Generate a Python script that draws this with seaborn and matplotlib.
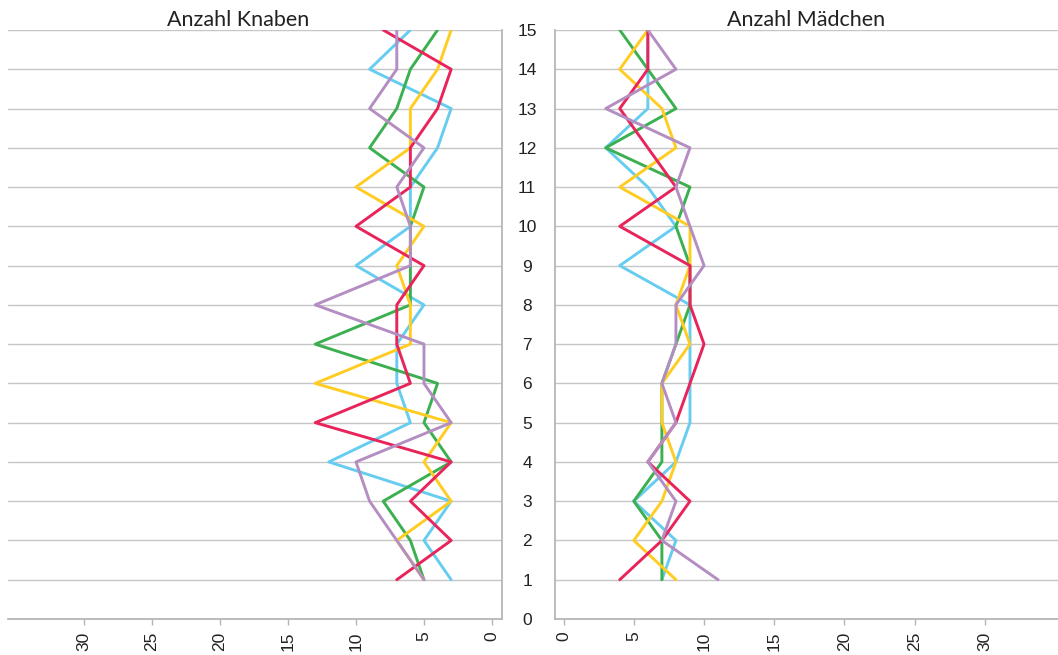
import pandas as pd
import matplotlib.pyplot as plt
import seaborn as sns

# positions 1..15 on the vertical axis
positions = list(range(1, 16))
series_names = ['blau', 'gruen', 'gelb', 'rot', 'lila']
colors = {'rot': '#e8245a', 'gelb': '#ffcc22', 'gruen': '#3cb050',
          'blau': '#66cdf0', 'lila': '#b48ec2'}

# Anzahl Knaben, values for positions 1..15
knaben_rot = [7, 3, 6, 3, 13, 6, 7, 7, 5, 10, 6, 6, 4, 3, 8]
knaben_gelb = [5, 7, 3, 5, 3, 13, 6, 6, 7, 5, 10, 6, 6, 4, 3]
knaben_gruen = [5, 6, 8, 3, 5, 4, 13, 6, 6, 6, 5, 9, 7, 6, 4]
knaben_blau = [3, 5, 3, 12, 6, 7, 7, 5, 10, 6, 6, 4, 3, 9, 6]
knaben_lila = [5, 7, 9, 10, 3, 5, 5, 13, 6, 6, 7, 5, 9, 7, 7]

# Anzahl Mädchen
maedchen_rot = [4, 7, 9, 6, 8, 9, 10, 9, 9, 4, 8, 6, 4, 6, 6]
maedchen_gelb = [8, 5, 7, 8, 7, 7, 9, 8, 9, 9, 4, 8, 7, 4, 6]
maedchen_gruen = [7, 7, 5, 7, 7, 7, 8, 9, 9, 8, 9, 3, 8, 6, 4]
maedchen_blau = [7, 8, 5, 8, 9, 9, 9, 9, 4, 8, 6, 3, 6, 6, 6]
maedchen_lila = [11, 7, 8, 6, 8, 7, 8, 8, 10, 9, 8, 9, 3, 8, 6]

x_ticks = [0, 5, 10, 15, 20, 25, 30]
y_ticks = list(range(0, 16))


def make_df(d):
    rows = []
    for name, vals in d.items():
        for p, v in zip(positions, vals):
            rows.append({'serie': name, 'pos': p, 'wert': v})
    return pd.DataFrame(rows)


df_k = make_df({'rot': knaben_rot, 'gelb': knaben_gelb, 'gruen': knaben_gruen,
                'blau': knaben_blau, 'lila': knaben_lila})
df_m = make_df({'rot': maedchen_rot, 'gelb': maedchen_gelb, 'gruen': maedchen_gruen,
                'blau': maedchen_blau, 'lila': maedchen_lila})

sns.set_theme(style='white')
plt.rcParams['font.family'] = ['Liberation Sans', 'DejaVu Sans']

fig = plt.figure(figsize=(10.58, 6.55), dpi=100)
ax1 = fig.add_axes([8 / 1058, 1 - 619 / 655, 494 / 1058, 589 / 655])
ax2 = fig.add_axes([555 / 1058, 1 - 619 / 655, 503 / 1058, 589 / 655])

grid_c = '#c6c6c6'
spine_c = '#b4b4b4'

for ax, df in [(ax1, df_k), (ax2, df_m)]:
    sns.lineplot(data=df, x='wert', y='pos', hue='serie', hue_order=series_names,
                 palette=colors, orient='y', estimator=None, sort=True,
                 legend=False, linewidth=2.1, ax=ax)
    ax.set_ylim(0, 15)
    ax.set_yticks(y_ticks)
    ax.set_xticks(x_ticks)
    ax.set_xticklabels([str(t) for t in x_ticks], rotation=90)
    ax.grid(axis='y', color=grid_c, linewidth=1)
    ax.set_axisbelow(True)
    ax.set_xlabel('')
    ax.set_ylabel('')
    ax.tick_params(axis='x', length=4, width=1, color=spine_c, labelsize=12.5,
                   labelcolor='#222222', pad=5, bottom=True)
    for s in ax.spines.values():
        s.set_visible(False)
    ax.spines['bottom'].set_visible(True)
    ax.spines['bottom'].set_color(spine_c)

ax1.set_xlim(35.6, -0.74)
ax1.tick_params(axis='y', left=False, labelleft=False)
ax1.spines['right'].set_visible(True)
ax1.spines['right'].set_color(spine_c)

ax2.set_xlim(-0.61, 35.2)
ax2.set_yticklabels([str(t) for t in y_ticks], ha='center')
ax2.tick_params(axis='y', left=False, labelleft=True, length=0, pad=20,
                labelsize=12.5, labelcolor='#222222')
ax2.spines['left'].set_visible(True)
ax2.spines['left'].set_color(spine_c)

ax1.set_title('Anzahl Knaben', x=0.466, fontsize=15.5, family=['Lato', 'DejaVu Sans'],
              color='#222222', pad=3)
ax2.set_title('Anzahl Mädchen', fontsize=15.5, family=['Lato', 'DejaVu Sans'],
              color='#222222', pad=3)

fig.savefig('out.png', dpi=100)
